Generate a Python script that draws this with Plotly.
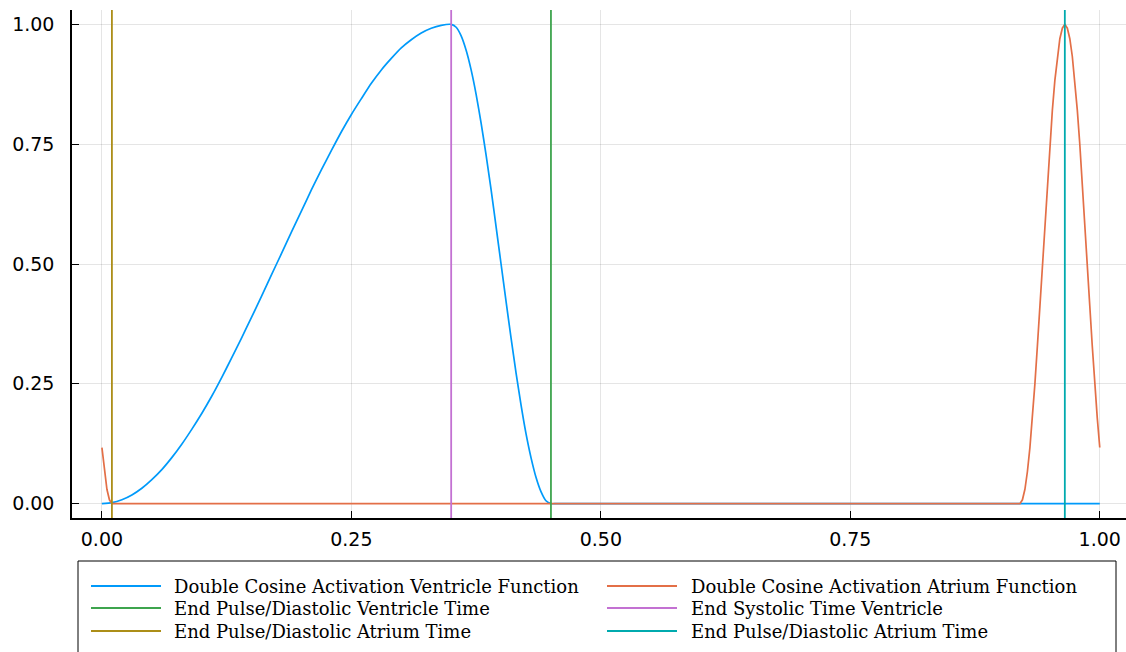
import plotly.graph_objects as go

# ---- data -------------------------------------------------------------
t_ventricle = [
    0.00, 0.01, 0.02, 0.03, 0.04, 0.05, 0.06, 0.07, 0.08, 0.09,
    0.10, 0.11, 0.12, 0.13, 0.14, 0.15, 0.16, 0.17, 0.18, 0.19,
    0.20, 0.21, 0.22, 0.23, 0.24, 0.25, 0.26, 0.27, 0.28, 0.29,
    0.30, 0.31, 0.32, 0.33, 0.34, 0.35,
    0.355, 0.36, 0.365, 0.37, 0.375, 0.38, 0.385, 0.39, 0.395, 0.40,
    0.405, 0.41, 0.415, 0.42, 0.425, 0.43, 0.435, 0.44, 0.445, 0.45,
    0.455, 0.46, 0.50, 0.75, 1.00,
]
a_ventricle = [
    0.000, 0.002, 0.008, 0.018, 0.032, 0.050, 0.071, 0.096, 0.124, 0.155,
    0.188, 0.224, 0.263, 0.304, 0.346, 0.389, 0.433, 0.478, 0.522, 0.567,
    0.611, 0.655, 0.697, 0.737, 0.776, 0.812, 0.845, 0.877, 0.905, 0.929,
    0.951, 0.968, 0.982, 0.992, 0.998, 1.000,
    0.994, 0.976, 0.946, 0.905, 0.854, 0.794, 0.727, 0.655, 0.578, 0.500,
    0.422, 0.346, 0.273, 0.206, 0.146, 0.096, 0.055, 0.025, 0.006, 0.000,
    0.000, 0.000, 0.000, 0.000, 0.000,
]

t_atrium = [
    0.00, 0.0025, 0.005, 0.0075, 0.01,
    0.92, 0.9225, 0.925, 0.9275, 0.93, 0.9325, 0.935, 0.9375, 0.94, 0.9425,
    0.945, 0.9475, 0.95, 0.9525, 0.955, 0.9575, 0.96, 0.9625, 0.965,
    0.9675, 0.97, 0.9725, 0.975, 0.9775, 0.98, 0.9825, 0.985, 0.9875,
    0.99, 0.9925, 0.995, 0.9975, 1.00,
]
a_atrium = [
    0.117, 0.067, 0.030, 0.008, 0.000,
    0.000, 0.008, 0.030, 0.067, 0.117, 0.179, 0.250, 0.329, 0.413, 0.500,
    0.587, 0.671, 0.750, 0.821, 0.883, 0.933, 0.970, 0.992, 1.000,
    0.992, 0.970, 0.933, 0.883, 0.821, 0.750, 0.671, 0.587, 0.500,
    0.413, 0.329, 0.250, 0.179, 0.117,
]

# marker times (vertical lines)
t_end_pulse_ventricle = 0.45
t_end_systolic_ventricle = 0.35
t_end_pulse_atrium_first = 0.01
t_end_pulse_atrium_second = 0.965

series_names = [
    "Double Cosine Activation Ventricle Function",
    "Double Cosine Activation Atrium Function",
    "End Pulse/Diastolic Ventricle Time",
    "End Systolic Time Ventricle",
    "End Pulse/Diastolic Atrium Time",
    "End Pulse/Diastolic Atrium Time",
]
series_colors = ["#009AFA", "#E36F47", "#3EA44E", "#C371D2", "#AC8E18", "#00AAAE"]

x_tickvals = [0.0, 0.25, 0.5, 0.75, 1.0]
x_ticktext = ["0.00", "0.25", "0.50", "0.75", "1.00"]
y_tickvals = [0.0, 0.25, 0.5, 0.75, 1.0]
y_ticktext = ["0.00", "0.25", "0.50", "0.75", "1.00"]

x_range = [-0.03, 1.0263]
y_range = [-0.03, 1.03]

# ---- layout geometry ---------------------------------------------------
W, H = 1126, 652
ML, MR, MT, MB = 72, 0, 10, 134
plot_w = W - ML - MR
plot_h = H - MT - MB


def px_x(px):
    return (px - ML) / plot_w


def px_y(py):
    return (H - MB - py) / plot_h


fig = go.Figure()

fig.add_trace(go.Scatter(x=t_ventricle, y=a_ventricle, mode="lines",
                         name=series_names[0],
                         line=dict(color=series_colors[0], width=1.7,
                                   shape="spline", smoothing=0.6)))
fig.add_trace(go.Scatter(x=t_atrium, y=a_atrium, mode="lines",
                         name=series_names[1],
                         line=dict(color=series_colors[1], width=1.7)))

verticals = [t_end_pulse_ventricle, t_end_systolic_ventricle,
             t_end_pulse_atrium_first, t_end_pulse_atrium_second]
for k, tv in enumerate(verticals):
    fig.add_trace(go.Scatter(x=[tv, tv], y=y_range, mode="lines",
                             name=series_names[k + 2],
                             line=dict(color=series_colors[k + 2], width=1.8)))

for tr in fig.data:
    tr.showlegend = False
    tr.cliponaxis = True

# ---- legend box below the plot (two columns) ---------------------------
shapes = [dict(type="rect", xref="paper", yref="paper",
               x0=px_x(78), x1=px_x(1116), y0=px_y(680), y1=px_y(561),
               line=dict(color="black", width=1), fillcolor="white", layer="below")]
annotations = []
col_line_x = [91, 607]
col_text_x = [172, 689]
row_y = [586, 608, 631]
for i, (name, color) in enumerate(zip(series_names, series_colors)):
    col, row = i % 2, i // 2
    yy = px_y(row_y[row])
    shapes.append(dict(type="line", xref="paper", yref="paper",
                       x0=px_x(col_line_x[col]), x1=px_x(col_line_x[col] + 70),
                       y0=yy, y1=yy, line=dict(color=color, width=1.8)))
    annotations.append(dict(xref="paper", yref="paper", x=px_x(col_text_x[col]), y=yy,
                            xanchor="left", yanchor="middle", showarrow=False,
                            text=name,
                            font=dict(family="DejaVu Serif", size=18, color="black")))

axis_common = dict(
    showline=True, linecolor="black", linewidth=1.5,
    ticks="inside", ticklen=7, tickwidth=1, tickcolor="black",
    showgrid=True, gridcolor="rgba(0,0,0,0.1)", gridwidth=1,
    zeroline=False, mirror=False,
    tickfont=dict(family="DejaVu Sans", size=19, color="black"),
)

fig.update_layout(
    width=W, height=H,
    margin=dict(l=ML, r=MR, t=MT, b=MB, pad=0),
    paper_bgcolor="white", plot_bgcolor="white",
    showlegend=False,
    xaxis=dict(range=x_range, tickvals=x_tickvals, ticktext=x_ticktext,
               ticklabelstandoff=3, **axis_common),
    yaxis=dict(range=y_range, tickvals=y_tickvals, ticktext=y_ticktext,
               ticklabelstandoff=12, **axis_common),
    shapes=shapes,
    annotations=annotations,
)

fig.write_html("out.html")
